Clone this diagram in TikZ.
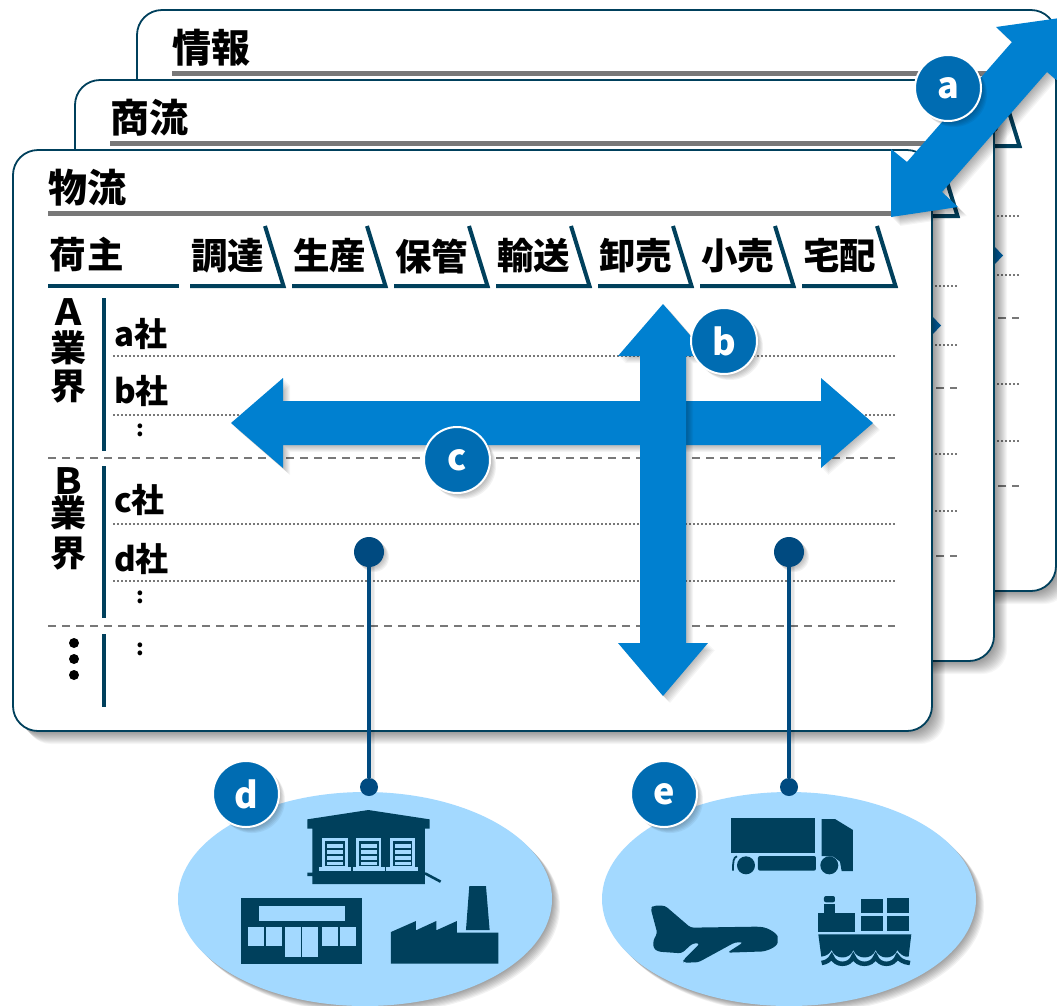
\documentclass[tikz,border=0pt]{standalone}
\usepackage{fontspec}
\newfontfamily\cjk{Noto Sans CJK JP}
\usetikzlibrary{calc}
\definecolor{teal}{HTML}{00405C}
\definecolor{rulegray}{HTML}{787878}
\definecolor{arrowblue}{HTML}{0080D0}
\definecolor{badgeblue}{HTML}{006CB2}
\definecolor{skyblue}{HTML}{A3D9FF}
\definecolor{pinblue}{HTML}{004A80}
\tikzset{
  x=1pt,y=-1pt,
  cardbox/.style={draw=teal,line width=1.8pt,fill=white,rounded corners=25pt},
  titletext/.style={anchor=west,inner sep=0pt,font=\cjk\bfseries\fontsize{39}{39}\selectfont},
  headtext/.style={inner sep=0pt,font=\cjk\bfseries\fontsize{36.5}{36.5}\selectfont},
  rowtext/.style={anchor=west,inner sep=0pt,font=\cjk\bfseries\fontsize{33}{33}\selectfont},
  sidetext/.style={inner sep=0pt,text height=26pt,text depth=6pt,font=\cjk\bfseries\fontsize{36}{36}\selectfont},
  sidelatin/.style={inner sep=0pt,text height=22pt,text depth=0pt,font=\cjk\bfseries\fontsize{36}{36}\selectfont},
  colontext/.style={inner sep=0pt,font=\cjk\bfseries\fontsize{22}{22}\selectfont},
  titlerule/.style={draw=rulegray,line width=5pt},
  tabline/.style={draw=teal,line width=4pt,miter limit=10},
  sideline/.style={draw=teal,line width=4pt},
  dotline/.style={draw=rulegray,line width=1.8pt,dash pattern=on 2pt off 2pt},
  dashline/.style={draw=rulegray,line width=1.6pt,dash pattern=on 8pt off 6pt},
  bigarrow/.style={fill=arrowblue},
  badge/.style={circle,minimum size=66pt,inner sep=0pt,fill=badgeblue,draw=white,line width=2pt,text=white,font=\cjk\bfseries\fontsize{36}{36}\selectfont},
  pinbig/.style={circle,minimum size=30pt,inner sep=0pt,fill=pinblue},
  pinsmall/.style={circle,minimum size=18pt,inner sep=0pt,fill=pinblue},
  pinline/.style={draw=pinblue,line width=4pt},
  icon/.style={fill=teal,draw=none},
  iconlight/.style={fill=skyblue,draw=none},
  blob/.style={fill=skyblue},
  vdot/.style={fill=black},
}
% directional soft shadow: repeated shifted translucent copies of a path
\newcommand\softshade[3]{\foreach \s in {1,...,#1}{\fill[black,opacity=#2,shift={(\s,\s)}] #3;}}
\newcommand\cardset[4]{%
 \softshade{13}{.035}{[rounded corners=25pt] (#1+13,#2+150) rectangle (#1+932,#2+731)}
 \begin{scope}[shift={(#1,#2)}]
  \path[cardbox] (13,150) rectangle (932,731);
  \node[titletext] (#4title) at (48,188) {#3};
  \draw[titlerule] (48,213) -- (897,213);
  \draw[tabline] (48,286) -- (179,286);
  \foreach \i in {0,...,6}{
    \draw[tabline] ({190+102*\i},286) -- ({283.5+102*\i},286) -- ({265+102*\i},226);
  }
  \node[headtext] (#4tab6) at ({227.5+102*6},256) {宅配};
  \foreach \yy in {356,415,524,581}{\draw[dotline] (113,\yy) -- (895,\yy);}
  \foreach \yy in {458,626}{\draw[dashline] (48,\yy) -- (895,\yy);}
 \end{scope}}
\begin{document}
\begin{tikzpicture}
\clip (0,0) rectangle (1057,1005);
\fill[white] (0,0) rectangle (1057,1005);
\cardset{124}{-140}{情報}{k}
\fill[badgeblue] (994,246) -- (1003,255.5) -- (994,265) -- cycle;
\cardset{62}{-70}{商流}{m}
\fill[badgeblue] (932,316) -- (941,325.5) -- (932,335) -- cycle;
\cardset{0}{0}{物流}{f}
% front card contents
\node[headtext,anchor=west] (fni) at (49,255) {荷\kern1.5pt主};
\foreach \lab [count=\i from 0] in {調達,生産,保管,輸送,卸売,小売}{
  \node[headtext] (ftab\i) at ({227.5+102*\i},256) {\lab};
}
\node[sidelatin] (fa0) at (68,314) {Ａ};
\node[sidetext] (fa1) at (68,351) {業};
\node[sidetext] (fa2) at (68,389) {界};
\node[sidelatin] (fb0) at (68,483) {Ｂ};
\node[sidetext] (fb1) at (68,516) {業};
\node[sidetext] (fb2) at (68,556) {界};
\draw[sideline] (104,298) -- (104,451);
\draw[sideline] (104,466) -- (104,618);
\draw[sideline] (104,634) -- (104,707);
\node[rowtext] (fra) at (114,334) {a社};
\node[rowtext] (frb) at (114,391) {b社};
\node[rowtext] (frc) at (114,500) {c社};
\node[rowtext] (frd) at (114,559) {d社};
\node[colontext] (fc1) at (140,430) {:};
\node[colontext] (fc2) at (140,597) {:};
\node[colontext] (fc3) at (140,649) {:};
\foreach \yy in {643,659,675}{\fill[vdot] (74,\yy) circle (5pt);}

% pins
\softshade{5}{.05}{(369,552) circle (15pt)}
\softshade{5}{.05}{(789,552) circle (15pt)}
\softshade{4}{.05}{(371,552) rectangle (369,787)}
\softshade{4}{.05}{(791,552) rectangle (789,787)}
% ellipses
\softshade{8}{.05}{(365,899) ellipse [x radius=187pt,y radius=107pt]}
\softshade{8}{.05}{(789,899) ellipse [x radius=187pt,y radius=107pt]}
\fill[blob] (365,899) ellipse [x radius=187pt,y radius=107pt];
\fill[blob] (789,899) ellipse [x radius=187pt,y radius=107pt];
\node[pinbig] (d1) at (369,552) {};
\node[pinsmall] (d2) at (369,787) {};
\draw[pinline] (d1) -- (d2);
\node[pinbig] (e1) at (789,552) {};
\node[pinsmall] (e2) at (789,787) {};
\draw[pinline] (e1) -- (e2);

% icons d
\begin{scope}[shift={(180,780)},x=.3333pt,y=-.3333pt]
 \fill[icon] (382,118) -- (565,90) -- (749,118) -- (749,146) -- (735,146) -- (735,312) -- (397,312) -- (397,288) -- (382,288) -- (382,278) -- (397,278) -- (397,146) -- (382,146) -- cycle;
 \draw[teal,line width=2.6pt] (735,280) -- (782,305);
 \foreach \d in {0,101,202}{
  \begin{scope}[shift={(\d,0)}]
   \fill[iconlight] (427,175) rectangle (503,263);
   \fill[icon] (436,183) rectangle (495,258);
   \fill[iconlight] (442,193) rectangle (490,205);
   \fill[iconlight] (442,211) rectangle (490,222);
   \fill[iconlight] (442,228) rectangle (490,239);
   \fill[iconlight] (442,245) rectangle (490,256);
   \fill[iconlight] (417,262) rectangle (513,273);
  \end{scope}}
 \fill[icon] (183,354) rectangle (546,551);
 \fill[iconlight] (237,378) rectangle (495,423);
 \fill[iconlight] (204,441) rectangle (253,498);
 \fill[iconlight] (258,441) rectangle (307,498);
 \fill[iconlight] (426,441) rectangle (475,498);
 \fill[iconlight] (480,441) rectangle (528,498);
 \fill[iconlight] (315,441) rectangle (363,531);
 \fill[iconlight] (366,441) rectangle (414,531);
 \fill[icon] (633,551) -- (633,456) -- (708,423) -- (708,451) -- (769,423) -- (769,451) -- (831,423) -- (831,458) -- (955,458) -- (955,551) -- cycle;
 \fill[icon] (868,318) -- (918,318) -- (929,450) -- (858,450) -- cycle;
\end{scope}
% icons e
\begin{scope}[shift={(600,780)},x=.3333pt,y=-.3333pt]
 \fill[icon] (393,114) rectangle (645,218);
 \fill[icon] (665,117) -- (705,117) -- (759,150) -- (759,273) -- (725,273) -- (720,245) -- (700,230) -- (665,228) -- cycle;
 \fill[icon,rounded corners=2pt] (474,228) rectangle (648,272);
 \fill[icon] (438,256) circle [radius=27];
 \fill[icon] (688,256) circle [radius=27];
 \draw[teal,line width=1.8pt] (411,229) .. controls (400,232) and (399,245) .. (399,272);
 \fill[icon,rounded corners=3pt] (152,385) -- (160,377) -- (195,377) -- (272,443) -- (470,440) .. controls (510,442) and (533,465) .. (533,478) .. controls (533,500) and (500,515) .. (470,515) -- (382,518) -- (430,487) -- (405,487) -- (295,547) -- (250,548) -- (250,540) -- (300,490) -- (278,490) -- (245,520) -- (175,515) -- (160,505) -- (160,480) -- (172,460) -- cycle;
 \fill[icon] (783,357) rectangle (849,400);
 \fill[icon] (862,354) rectangle (927,400);
 \fill[icon] (783,408) rectangle (849,453);
 \fill[icon] (862,408) rectangle (927,453);
 \fill[icon] (654,400) rectangle (765,455);
 \fill[icon] (673,372) rectangle (705,400);
 \fill[icon,rounded corners=2pt] (672,348) rectangle (705,367);
 \fill[icon] (655,463) -- (934,463) -- (926,530) -- (918,530)
   .. controls (908,528) and (898,520) .. (892,510)
   .. controls (882,540) and (837,540) .. (827,510)
   .. controls (817,540) and (770,540) .. (760,510)
   .. controls (750,540) and (705,540) .. (695,510)
   .. controls (690,520) and (680,528) .. (664,530) -- cycle;
 \draw[teal,line width=4.5pt] (665,549)
   .. controls (680,547) and (690,539) .. (695,529)
   .. controls (705,559) and (750,559) .. (760,529)
   .. controls (770,559) and (817,559) .. (827,529)
   .. controls (837,559) and (882,559) .. (892,529)
   .. controls (898,539) and (910,547) .. (930,549);
\end{scope}

% arrows
\def\pathc{(231,423) -- (283,378) -- (283,401) -- (821,401) -- (821,378) -- (873,423) -- (821,468) -- (821,445) -- (283,445) -- (283,468) -- cycle}
\def\pathb{(663,304) -- (708,356) -- (686,356) -- (686,643) -- (708,643) -- (663,696) -- (618,643) -- (640,643) -- (640,356) -- (618,356) -- cycle}
\def\patha{(996,27) -- (1012,42) -- (907,162) -- (891,149) -- (891,217) -- (958,207) -- (942,192) -- (1047,72) -- (1060,83) -- (1060,18) -- cycle}
\softshade{7}{.04}{\pathc}
\path[bigarrow] \pathc;
\softshade{7}{.04}{\pathb}
\path[bigarrow] \pathb;
\softshade{9}{.04}{\patha}
\path[bigarrow] \patha;

% badges
\foreach \bx/\by/\bt in {948/88/a,724/341/b,457/460/c,246/794/d,664/794/e}{
  \softshade{6}{.05}{(\bx,\by) circle (33pt)}
  \node[badge] (badge\bt) at (\bx,\by) {\raisebox{-2pt}{\bt}};
}
\end{tikzpicture}
\end{document}
